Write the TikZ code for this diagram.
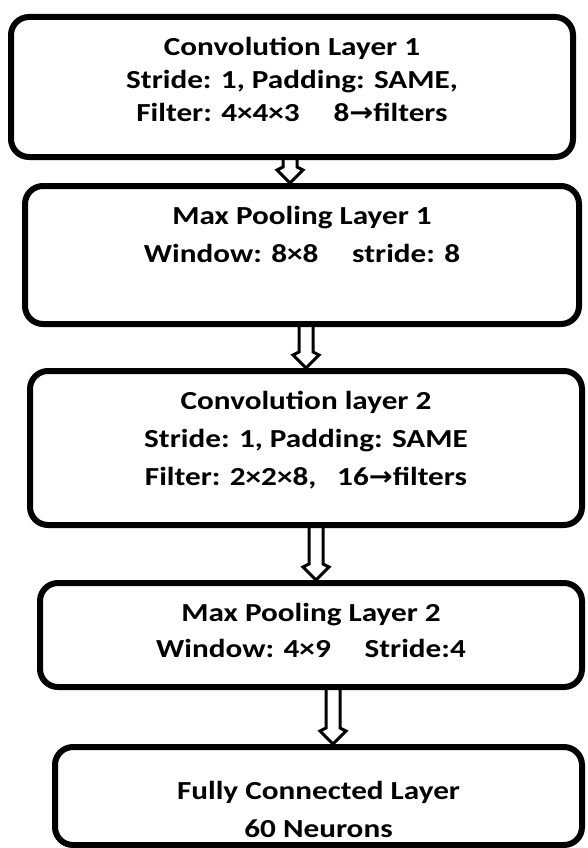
\documentclass[tikz,border=0pt]{standalone}
\usepackage{fontspec}
\setmainfont{Carlito}[FakeStretch=1.2]
\newfontfamily\arrowfont{DejaVu Sans}[FakeStretch=1.1]
\usetikzlibrary{calc}
\newcommand{\rto}{{\arrowfont\bfseries →}}
\begin{document}
\begin{tikzpicture}[
    x = 1pt, y = -1pt,
    layer/.style = {draw, line width = 6pt, rounded corners = 18pt, inner sep = 0pt},
    txt/.style = {align = center, inner sep = 0pt, font = \bfseries\fontsize{26}{38}\selectfont},
    hollow/.style = {line width = 3pt, line join = miter, to path = {
        ($(\tikztostart)+(-7,0)$) -- ($(\tikztotarget)+(-7,-16)$)
        -- ($(\tikztotarget)+(-13,-13)$) -- (\tikztotarget)
        -- ($(\tikztotarget)+(13,-13)$) -- ($(\tikztotarget)+(7,-16)$)
        -- ($(\tikztostart)+(7,0)$)}}
  ]
  \useasboundingbox (0,0) rectangle (587,848);
  % layers
  \node[layer, minimum width = 562pt, minimum height = 140pt] (conv1) at (292, 87)    {};
  \node[layer, minimum width = 554pt, minimum height = 138pt] (pool1) at (302, 255)   {};
  \node[layer, minimum width = 552pt, minimum height = 154pt] (conv2) at (306, 448)   {};
  \node[layer, minimum width = 542pt, minimum height = 104pt] (pool2) at (311, 635)   {};
  \node[layer, minimum width = 527pt, minimum height = 98pt]  (fc)    at (318.5, 796) {};
  % texts
  \node[txt, font = \bfseries\fontsize{26}{33}\selectfont] (conv1t) at (292, 79)
    {Convolution Layer 1\\Stride: 1, Padding: SAME,\\Filter: 4×4×3\hspace{1.3em}8\rto filters};
  \node[txt] (pool1t) at (302, 234)
    {Max Pooling Layer 1\\Window: 8×8\hspace{1.3em}stride: 8};
  \node[txt] (conv2t) at (306, 440)
    {Convolution layer 2\\Stride: 1, Padding: SAME\\Filter: 2×2×8,\hspace{0.8em}16\rto filters};
  \node[txt, font = \bfseries\fontsize{26}{36}\selectfont] (pool2t) at (311, 630)
    {Max Pooling Layer 2\\Window: 4×9\hspace{1.3em}Stride:4};
  \node[txt] (fct) at (318.5, 809)
    {Fully Connected Layer\\60 Neurons};
  % arrows
  \draw[hollow] ([xshift = -2pt]conv1.south) to ([xshift = -2pt]conv1.south |- pool1.north);
  \draw[hollow] ([xshift = 4pt]pool1.south)  to ([xshift = 4pt]pool1.south |- conv2.north);
  \draw[hollow] ([xshift = 10pt]conv2.south) to ([xshift = 10pt]conv2.south |- pool2.north);
  \draw[hollow] ([xshift = 22pt]pool2.south) to ([xshift = 22pt]pool2.south |- fc.north);
\end{tikzpicture}
\end{document}
